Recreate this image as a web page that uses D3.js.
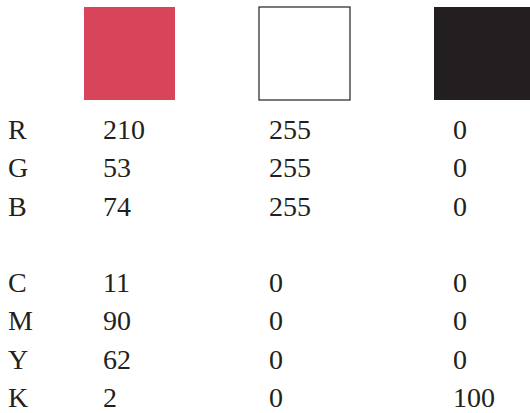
<!DOCTYPE html>
<html>
<head>
<meta charset="utf-8">
<script src="https://cdn.jsdelivr.net/npm/d3@7"></script>
<style>
  body { margin: 0; background: #fff; }
  svg { display: block; }
  text { font-family: "Liberation Serif", "DejaVu Serif", serif; fill: #231f20; }
</style>
</head>
<body>
<div id="chart"></div>
<script>
// Set Dimensions
const width = 530;
const height = 413;

// Data
const swatches = ["red", "white", "black"];
const swatchFill = ["#d8445a", "#ffffff", "#231f20"];
const channels = ["R", "G", "B", "", "C", "M", "Y", "K"];
const redValues = [210, 53, 74, null, 11, 90, 62, 2];
const whiteValues = [255, 255, 255, null, 0, 0, 0, 0];
const blackValues = [0, 0, 0, null, 0, 0, 0, 100];

const svg = d3.select("#chart")
  .append("svg")
  .attr("width", width)
  .attr("height", height);

// Swatch columns (step 175, width 91)
const xSwatch = d3.scaleBand()
  .domain(swatches)
  .range([84, 525])
  .paddingInner(0.48)
  .paddingOuter(0);

// Text columns
const xText = d3.scaleOrdinal()
  .domain(["label"].concat(swatches))
  .range([8, 103, 269, 453]);

// Row baselines
const yRow = d3.scaleLinear()
  .domain([0, 7])
  .range([139, 407]);

svg.selectAll("rect.swatch")
  .data(swatches).enter()
  .append("rect")
  .attr("class", "swatch")
  .attr("x", d => xSwatch(d))
  .attr("y", 7)
  .attr("width", d => d == "black" ? 100 : xSwatch.bandwidth())
  .attr("height", 93)
  .attr("fill", (d, i) => swatchFill[i])
  .attr("stroke", d => d == "white" ? "#231f20" : "none")
  .attr("stroke-width", 1.2);

// Row labels
svg.selectAll("text.label")
  .data(channels.map((c, i) => [c, i]).filter(d => d[0] != "")).enter()
  .append("text")
  .attr("class", "label")
  .attr("x", xText("label"))
  .attr("y", d => yRow(d[1]))
  .attr("font-size", 28)
  .text(d => d[0]);

// Values
const columns = [redValues, whiteValues, blackValues];
columns.forEach((vals, c) => {
  svg.selectAll("text.v" + c)
    .data(vals.map((v, i) => [v, i]).filter(d => d[0] !== null)).enter()
    .append("text")
    .attr("class", "v" + c)
    .attr("x", xText(swatches[c]))
    .attr("y", d => yRow(d[1]))
    .attr("font-size", 28)
    .text(d => d[0]);
});
</script>
</body>
</html>
